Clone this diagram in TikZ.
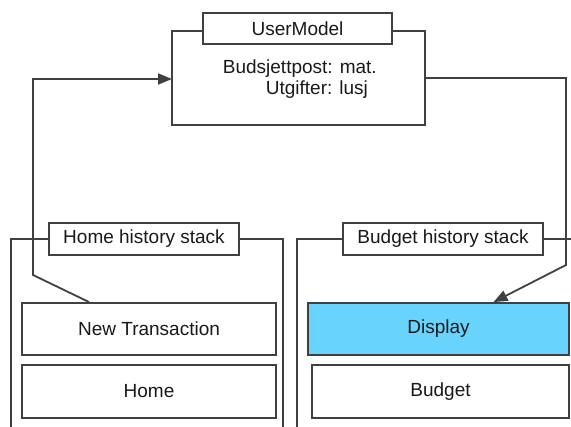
\documentclass[tikz,border=0pt]{standalone}
\usepackage{fontspec}
\setmainfont{Liberation Sans}
\usetikzlibrary{arrows.meta,calc}
\definecolor{ink}{HTML}{404040}
\definecolor{activeblue}{HTML}{68D4FE}
\begin{document}
\begin{tikzpicture}[x=1pt,y=-1pt,
  line width=1.8pt,
  every node/.style={font=\fontsize{19}{22}\selectfont, text=black!90},
  box/.style={draw=ink, fill=white, inner sep=0pt, minimum height=52pt},
  titlebox/.style={draw=ink, fill=white, inner sep=0pt, minimum height=32pt},
  frame/.style={draw=ink},
  link/.style={draw=ink, -{Triangle[length=14pt,width=11pt]}}
]
\useasboundingbox (0,0) rectangle (571,427);

% shared model
\draw[frame] (172,31) rectangle (425,125);
\node[titlebox, minimum width=189pt, minimum height=31pt] (um) at (297.5,28.5) {UserModel};
\node[anchor=west, inner sep=0pt] (post) at (222,69) {Budsjettpost: mat.};
\node[anchor=west, inner sep=0pt] (spend) at (265,90) {Utgifter: lusj};
\coordinate (umwest) at (172,79);
\coordinate (umeast) at (425,78);

% history stacks
\node[titlebox, minimum width=190pt] (hs) at (144,239) {Home history stack};
\node[titlebox, minimum width=200pt] (bs) at (443,239) {Budget history stack};
\draw[frame] (hs.west) -- (11,239) -- (11,427);
\draw[frame] (hs.east) -- (283,239) -- (283,427);
\draw[frame] (bs.west) -- (297,239) -- (297,427);
\draw[frame] (bs.east) -- (571,239);

% screens
\node[box, minimum width=254pt] (nt) at (149,329) {New Transaction};
\node[box, minimum width=254pt, minimum height=53pt] (home) at (149,391.5) {Home};
\node[box, fill=activeblue, minimum width=261pt] (disp) at (438.5,329) {Display};
\node[box, minimum width=257pt, minimum height=53pt] (budget) at (440.5,391.5) {Budget};

% connectors
\coordinate (ntout) at ($(nt.north west)+(68,0)$);
\coordinate (dispin) at ($(disp.north)+(55,0)$);
\draw[link] (ntout) -- (33,275) -- (33,79) -- (umwest);
\draw[link] (umeast) -- (566,78) -- (566,265) -- (dispin);
\end{tikzpicture}
\end{document}
